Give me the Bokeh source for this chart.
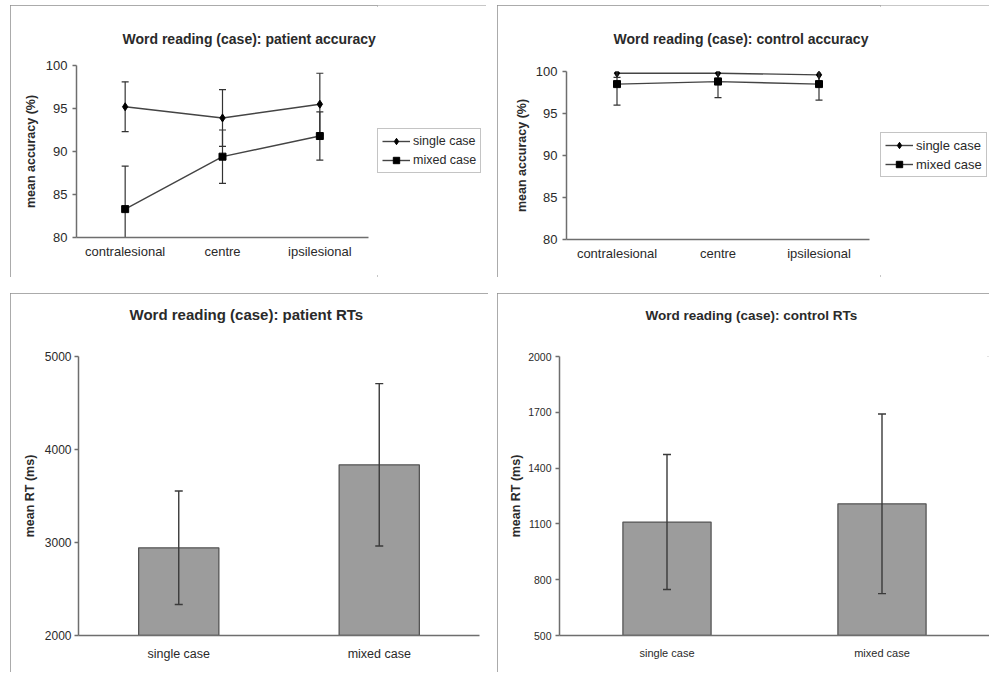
from bokeh.plotting import figure
from bokeh.layouts import column, row
from bokeh.models import FixedTicker, Legend, LegendItem, ColumnDataSource, Title
from bokeh.embed import file_html
from bokeh.resources import INLINE

# ---------------- data ----------------
locations = ["contralesional", "centre", "ipsilesional"]
series_names = ["single case", "mixed case"]

patient_single_acc = [95.2, 93.9, 95.5]
patient_single_err = [2.9, 3.3, 3.6]
patient_mixed_acc = [83.3, 89.4, 91.8]
patient_mixed_err = [5.0, 3.1, 2.8]

control_single_acc = [99.8, 99.8, 99.6]
control_single_err = [0.5, 0.6, 0.9]
control_mixed_acc = [98.5, 98.8, 98.5]
control_mixed_err = [2.5, 1.9, 1.9]

acc_ticks = [80, 85, 90, 95, 100]

rt_conditions = ["single case", "mixed case"]
patient_rt = [2943, 3835]
patient_rt_err = [610, 873]
patient_rt_ticks = [2000, 3000, 4000, 5000]

control_rt = [1110, 1208]
control_rt_err = [363, 483]
control_rt_ticks = [500, 800, 1100, 1400, 1700, 2000]

FONT = "Liberation Sans"
TEXT = "#2a2a2a"
AXIS = "#6e6e6e"
PANEL_STYLE = {"outline": "2px solid #8f8f8f", "outline-offset": "-2px"}
SERIES_STYLE = [("diamond", 8), ("square", 7)]


def add_title(p, text, s):
    """Spacer panel next to the frame, then the title panel outermost."""
    fs = s["title_fs"]
    h = 1.12 * fs
    M = s["mb"][2]
    c = s["title_cy"]
    spacer_h = M - c - 1 - h / 2
    spacer = Title(text=" ", text_font_size="1px", standoff=max(spacer_h - 3.1, 0))
    p.add_layout(spacer, "above")
    t = Title(text=text, text_font=FONT, text_font_size=f"{fs}px",
              text_font_style="bold", text_color=TEXT, align="left",
              vertical_align="middle", standoff=0, offset=s["title_offset"])
    p.add_layout(t, "above")


def style_common(p, s):
    p.toolbar_location = None
    p.outline_line_color = None
    p.xgrid.grid_line_color = None
    p.ygrid.grid_line_color = None
    p.background_fill_color = "white"
    p.border_fill_color = "white"
    p.frame_align = False
    for ax in (p.xaxis[0], p.yaxis[0]):
        ax.axis_line_color = AXIS
        ax.axis_line_width = 1.5
        ax.major_label_text_font = FONT
        ax.major_label_text_color = TEXT
        ax.axis_label_text_font = FONT
        ax.axis_label_text_font_size = "12.5px"
        ax.axis_label_text_font_style = "bold"
        ax.axis_label_text_color = TEXT
        ax.minor_tick_line_color = None
    p.xaxis.major_label_text_font_size = s["xtick_size"]
    p.yaxis.major_label_text_font_size = s["ytick_size"]
    p.xaxis.major_tick_line_color = None
    p.xaxis.major_tick_out = 0
    p.xaxis.major_tick_in = 0
    p.xaxis.major_label_standoff = s["xstandoff"]
    p.yaxis.major_tick_line_color = AXIS
    p.yaxis.major_tick_line_width = 1.5
    p.yaxis.major_tick_in = 0
    p.yaxis.major_tick_out = 4
    p.yaxis.major_label_standoff = s["ystandoff"]
    p.yaxis.axis_label_standoff = s["label_standoff"]
    p.xaxis.axis_label = None


def make_fig(x_factors, y_range, s):
    mb = s["mb"]
    return figure(x_range=x_factors, y_range=y_range, width=s["w"], height=s["h"],
                  title=None, output_backend="svg", toolbar_location=None,
                  min_border_left=mb[0], min_border_right=mb[1],
                  min_border_top=mb[2], min_border_bottom=mb[3])


def legend_fig(s, series_values):
    """Separate small figure holding the series legend to the right of the chart.
    Its glyph renderers carry the series values, which lie outside its (0, 1)
    view, so only the legend itself shows."""
    q = figure(width=s["leg_w"], height=s["h"], x_axis_type=None, y_axis_type=None,
               output_backend="svg", toolbar_location=None, title=None,
               min_border=0, x_range=(0, 1), y_range=(0, 1))
    q.outline_line_color = None
    q.xgrid.grid_line_color = None
    q.ygrid.grid_line_color = None
    q.border_fill_color = "white"
    q.frame_align = False
    items = []
    for name, (marker, msize), vals in zip(series_names, SERIES_STYLE, series_values):
        src = ColumnDataSource(dict(x=list(range(len(vals))), y=vals))
        ln = q.line(x="x", y="y", source=src, line_color="#444444", line_width=1.4)
        sc = q.scatter(x="x", y="y", source=src, marker=marker, size=msize,
                       fill_color="black", line_color="black")
        items.append(LegendItem(label=name, renderers=[ln, sc]))
    legend = Legend(items=items, location=s["legend_loc"])
    legend.border_line_color = "#8a8a8a"
    legend.border_line_width = 1.5
    legend.background_fill_color = "white"
    legend.label_text_font = FONT
    legend.label_text_font_size = s["legend_size"]
    legend.label_text_color = TEXT
    legend.padding = 4
    legend.spacing = 3
    legend.margin = 0
    legend.glyph_height = 16
    legend.label_height = 16
    legend.glyph_width = 28
    legend.label_standoff = 3
    q.add_layout(legend, "center")
    return q


def accuracy_chart(title, single, single_err, mixed, mixed_err, s):
    p = make_fig(locations, (80, 100), s)
    style_common(p, s)
    add_title(p, title, s)
    p.yaxis.ticker = FixedTicker(ticks=acc_ticks)
    p.yaxis.axis_label = "mean accuracy (%)"
    p.x_range.range_padding = 0

    for vals, errs, (marker, msize) in ((single, single_err, SERIES_STYLE[0]),
                                        (mixed, mixed_err, SERIES_STYLE[1])):
        lower = [v - e for v, e in zip(vals, errs)]
        upper = [v + e for v, e in zip(vals, errs)]
        src = ColumnDataSource(dict(x=locations, y=vals, lo=lower, hi=upper))
        p.segment(x0="x", y0="lo", x1="x", y1="hi", source=src,
                  line_color="#333333", line_width=1.2)
        p.scatter(x="x", y="lo", source=src, marker="dash", size=7,
                  line_color="#333333", line_width=1.2)
        p.scatter(x="x", y="hi", source=src, marker="dash", size=7,
                  line_color="#333333", line_width=1.2)
        p.line(x="x", y="y", source=src, line_color="#444444", line_width=1.4)
        p.scatter(x="x", y="y", source=src, marker=marker, size=msize,
                  fill_color="black", line_color="black")
    return row(p, legend_fig(s, [single, mixed]), styles=PANEL_STYLE)


def rt_chart(title, vals, errs, ticks, s):
    p = make_fig(rt_conditions, (ticks[0], ticks[-1]), s)
    style_common(p, s)
    add_title(p, title, s)
    p.yaxis.ticker = FixedTicker(ticks=ticks)
    p.yaxis.axis_label = "mean RT (ms)"
    p.x_range.range_padding = 0
    lower = [v - e for v, e in zip(vals, errs)]
    upper = [v + e for v, e in zip(vals, errs)]
    src = ColumnDataSource(dict(x=rt_conditions, top=vals, lo=lower, hi=upper))
    p.vbar(x="x", top="top", bottom=ticks[0], width=s["bar_width"], source=src,
           fill_color="#9c9c9c", line_color="#555555", line_width=1.3)
    p.segment(x0="x", y0="lo", x1="x", y1="hi", source=src,
              line_color="#3a3a3a", line_width=1.4)
    p.scatter(x="x", y="lo", source=src, marker="dash", size=8,
              line_color="#3a3a3a", line_width=1.4)
    p.scatter(x="x", y="hi", source=src, marker="dash", size=8,
              line_color="#3a3a3a", line_width=1.4)
    p.styles = PANEL_STYLE
    return p


s1 = dict(w=367, leg_w=109, h=272, mb=(66, 9, 60, 40), title_fs=14, title_cy=33,
          title_offset=46, xtick_size="13px", ytick_size="13px", xstandoff=6,
          ystandoff=5, label_standoff=5, legend_size="12.5px", legend_loc=(0, 104))
s2 = dict(w=383, leg_w=109, h=272, mb=(69, 11, 66, 38), title_fs=14, title_cy=33,
          title_offset=47, xtick_size="13px", ytick_size="13px", xstandoff=6,
          ystandoff=5, label_standoff=4, legend_size="13px", legend_loc=(0, 100))
s3 = dict(w=478, h=379, mb=(68, 9, 63, 37), title_fs=15, title_cy=21,
          title_offset=51, xtick_size="12.5px", ytick_size="12px", xstandoff=11,
          ystandoff=3, label_standoff=5, bar_width=0.4)
s4 = dict(w=492, h=379, mb=(62, 0, 63, 37), title_fs=13.5, title_cy=21,
          title_offset=86, xtick_size="11px", ytick_size="10.5px", xstandoff=11,
          ystandoff=4, label_standoff=2, bar_width=0.41)

c1 = accuracy_chart("Word reading (case): patient accuracy",
                    patient_single_acc, patient_single_err,
                    patient_mixed_acc, patient_mixed_err, s1)
c2 = accuracy_chart("Word reading (case): control accuracy",
                    control_single_acc, control_single_err,
                    control_mixed_acc, control_mixed_err, s2)
c3 = rt_chart("Word reading (case): patient RTs", patient_rt, patient_rt_err,
              patient_rt_ticks, s3)
c4 = rt_chart("Word reading (case): control RTs", control_rt, control_rt_err,
              control_rt_ticks, s4)

layout = column(row(c1, c2, spacing=11), row(c3, c4, spacing=9), spacing=16,
                margin=(5, 0, 0, 10))

open("out.html", "w").write(file_html(layout, INLINE))
